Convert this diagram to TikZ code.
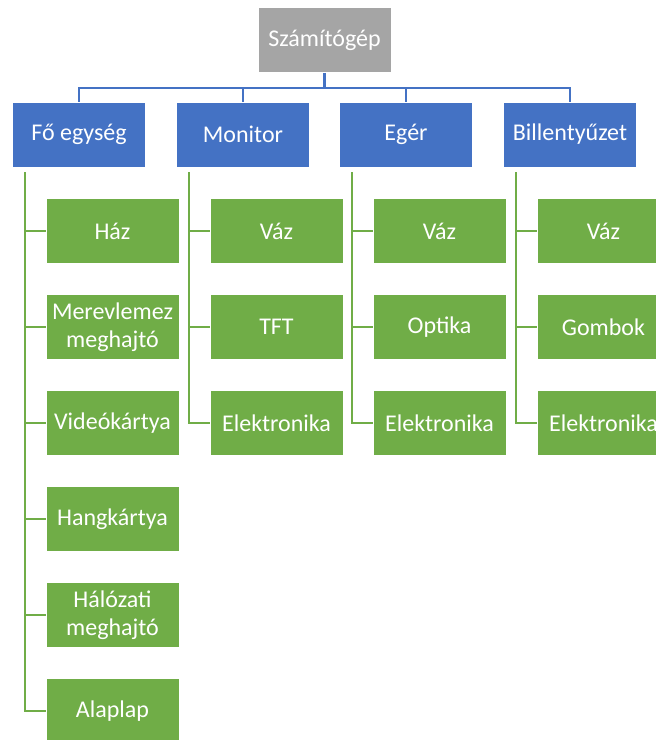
\documentclass[tikz,border=0pt]{standalone}
\usepackage{fontspec}
\setmainfont{Carlito}
\definecolor{rootgray}{HTML}{A5A5A5}
\definecolor{unitblue}{HTML}{4472C4}
\definecolor{partgreen}{HTML}{70AD47}
\tikzset{
  box/.style={draw=white, line width=0.8pt, text=white, align=center,
    minimum width=133pt, minimum height=65pt, inner sep=0pt,
    font=\fontsize{24}{28}\selectfont},
  rootbox/.style={box, fill=rootgray},
  unitbox/.style={box, fill=unitblue},
  partbox/.style={box, fill=partgreen},
  blueline/.style={draw=unitblue, line width=2.5pt},
  greenline/.style={draw=partgreen, line width=2.5pt},
}
\begin{document}
\begin{tikzpicture}[x=1pt, y=-1pt]
\useasboundingbox (0,0) rectangle (656,740);

% root and main units
\node[rootbox] (root) at (324.5,40) {Számítógép};
\node[unitbox] (u1) at (79,134.5)  {Fő egység};
\node[unitbox] (u2) at (243,134.5) {Monitor};
\node[unitbox] (u3) at (406,134.5) {Egér};
\node[unitbox] (u4) at (570,134.5) {Billentyűzet};

% parts of the main unit
\node[partbox] (a1) at (112.5,231) {Ház};
\node[partbox] (a2) at (112.5,327) {Merevlemez\\meghajtó};
\node[partbox] (a3) at (112.5,423) {Videókártya};
\node[partbox] (a4) at (112.5,519) {Hangkártya};
\node[partbox] (a5) at (112.5,615) {Hálózati\\meghajtó};
\node[partbox] (a6) at (112.5,711) {Alaplap};

% parts of the monitor
\node[partbox] (b1) at (276.5,231) {Váz};
\node[partbox] (b2) at (276.5,327) {TFT};
\node[partbox] (b3) at (276.5,423) {Elektronika};

% parts of the mouse
\node[partbox] (c1) at (439.5,231) {Váz};
\node[partbox] (c2) at (439.5,327) {Optika};
\node[partbox] (c3) at (439.5,423) {Elektronika};

% parts of the keyboard
\node[partbox] (d1) at (603.5,231) {Váz};
\node[partbox] (d2) at (603.5,327) {Gombok};
\node[partbox] (d3) at (603.5,423) {Elektronika};

% root to units
\coordinate (hub) at ([yshift=-15pt]root.south);
\draw[blueline] (root.south) -- (hub);
\foreach \u in {u1,u2,u3,u4}
  \draw[blueline] (hub) -| (\u.north);

% units to parts
\coordinate (va) at ([xshift=13pt,yshift=-5pt]u1.south west);
\coordinate (vb) at ([xshift=13pt,yshift=-5pt]u2.south west);
\coordinate (vc) at ([xshift=13pt,yshift=-5pt]u3.south west);
\coordinate (vd) at ([xshift=13pt,yshift=-5pt]u4.south west);
\foreach \p in {a1,a2,a3,a4,a5,a6}
  \draw[greenline] (va) |- (\p.west);
\foreach \p in {b1,b2,b3}
  \draw[greenline] (vb) |- (\p.west);
\foreach \p in {c1,c2,c3}
  \draw[greenline] (vc) |- (\p.west);
\foreach \p in {d1,d2,d3}
  \draw[greenline] (vd) |- (\p.west);
\end{tikzpicture}
\end{document}
